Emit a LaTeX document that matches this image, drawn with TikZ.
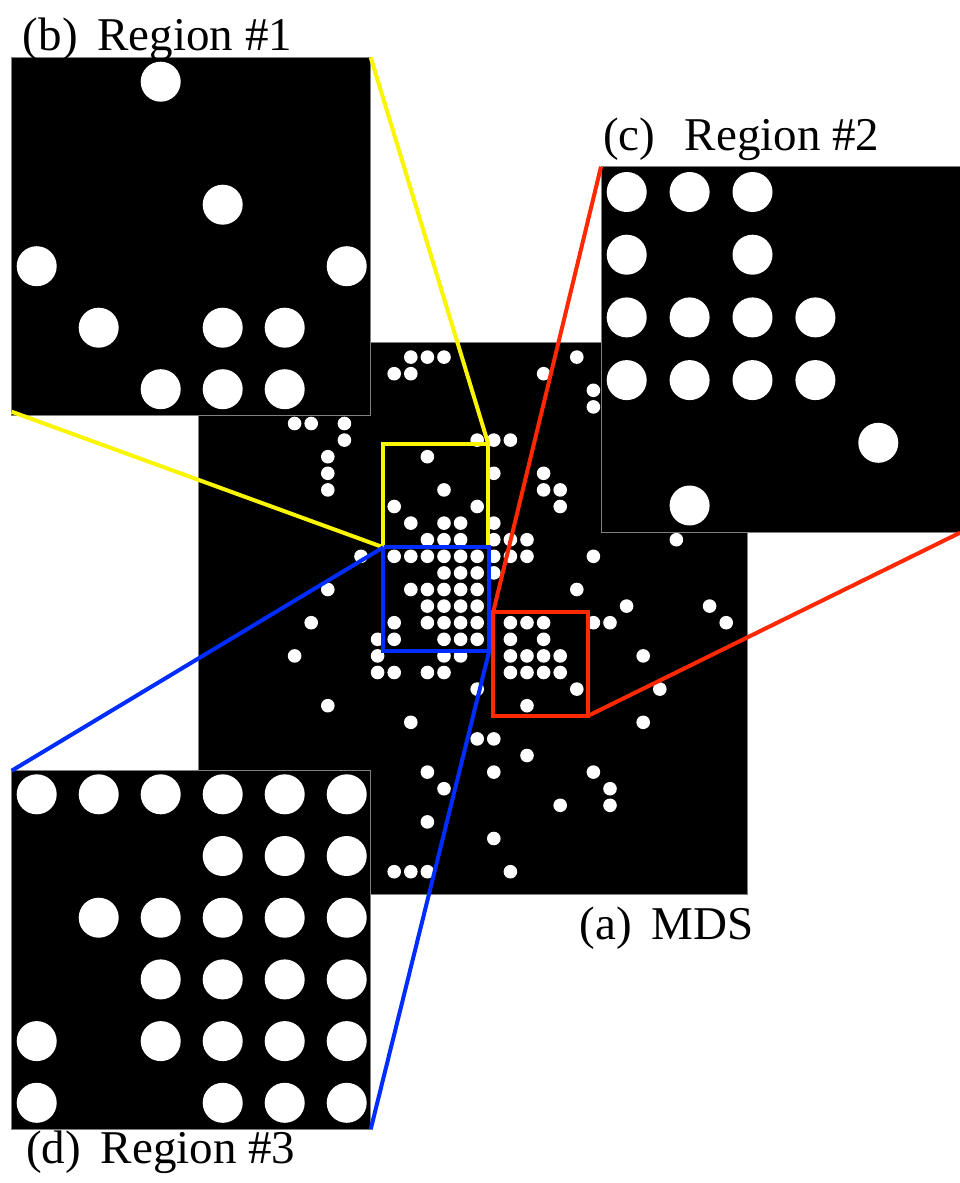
\documentclass[tikz,border=0pt]{standalone}
\usepackage{fontspec}
\setmainfont{Liberation Serif}
\definecolor{yel}{RGB}{250,245,0}
\definecolor{redc}{RGB}{255,40,0}
\definecolor{bluc}{RGB}{0,45,255}
\begin{document}
\begin{tikzpicture}[x=1pt,y=-1pt,
  panel/.style={rectangle,draw=gray,line width=0.8pt,fill=black,inner sep=0pt,outer sep=0pt},
  zbox/.style={rectangle,line width=4pt,inner sep=0pt,outer sep=0pt,fill=none},
  link/.style={line width=4pt},
  lbl/.style={inner sep=0pt,outer sep=0pt,anchor=base west,font=\fontsize{47}{56}\selectfont},
  dotm/.style={fill=white}]
\useasboundingbox (0,0) rectangle (960,1183);
\fill[white] (0,0) rectangle (960,1183);

% main MDS panel
\node[panel, minimum width=549pt, minimum height=552pt] (mds) at (472.5,618) {};
\foreach \r/\cs in {
  1/{13,14,15,23}, 2/{12,13,21}, 3/{24}, 4/{24}, 5/{6,7,9}, 6/{9,17,18,19},
  7/{8,14}, 8/{8,18,21}, 9/{8,15,21,22}, 10/{12,17,22}, 11/{13,15,16,18},
  12/{14,15,16,18,19,20,29}, 13/{10,12,13,14,15,16,17,18,19,20,24},
  14/{15,16,17,18}, 15/{8,13,14,15,16,17,23}, 16/{14,15,16,17,26,31},
  17/{7,12,14,15,16,17,19,20,21,24,25,32}, 18/{11,12,15,16,17,19,21},
  19/{6,11,15,16,19,20,21,22,27}, 20/{11,12,14,15,19,20,21,22},
  21/{17,23,28}, 22/{8,20}, 23/{13,27}, 24/{17,18}, 25/{20}, 26/{14,18,24},
  27/{15,25}, 28/{22,25}, 29/{14}, 30/{18}, 32/{12,13,14,19}}
{ \foreach \c in \cs { \fill[dotm] ({195+16.6*\c},{340.5+16.6*\r}) circle (6.8); } }

% inset (b)
\node[panel, minimum width=359pt, minimum height=358.4pt] (insb) at (191.2,236.5) {};
\foreach \k/\j in {2/0,3/2,0/3,5/3,1/4,3/4,4/4,2/5,3/5,4/5}
  { \fill[dotm] ({36.7+62*\k},{81.7+61.5*\j}) circle (20); }

% inset (c)
\node[panel, minimum width=359pt, minimum height=366pt] (insc) at (780.5,349.7) {};
\foreach \k/\j in {0/0,1/0,2/0,0/1,2/1,0/2,1/2,2/2,3/2,0/3,1/3,2/3,3/3,4/4,1/5}
  { \fill[dotm] ({626.7+62.9*\k},{192+62.7*\j}) circle (20); }

% inset (d)
\node[panel, minimum width=359pt, minimum height=358.6pt] (insd) at (191.2,950) {};
\foreach \j/\ks in {0/{0,1,2,3,4,5}, 1/{3,4,5}, 2/{1,2,3,4,5}, 3/{2,3,4,5}, 4/{0,2,3,4,5}, 5/{0,3,4,5}}
  { \foreach \k in \ks { \fill[dotm] ({36.7+62*\k},{794.3+61.7*\j}) circle (20); } }

% zoom boxes
\node[zbox, draw=yel, minimum width=105pt, minimum height=103.3pt] (boxy) at (435.8,495.65) {};
\node[zbox, draw=redc, minimum width=94.4pt, minimum height=104.3pt] (boxr) at (540.5,663.85) {};
\node[zbox, draw=bluc, minimum width=106pt, minimum height=103.4pt] (boxb) at (436.3,599) {};

% connectors
\draw[link, yel] (insb.north east) -- (boxy.north east);
\draw[link, yel] ([yshift=4pt]insb.south west) -- (boxy.south west);
\draw[link, redc] (insc.north west) -- (boxr.north west);
\draw[link, redc] (insc.south east) -- (boxr.south east);
\draw[link, bluc] (insd.north west) -- (boxb.north west);
\draw[link, bluc] (insd.south east) -- (boxb.south east);

% labels
\node[lbl] (lb) at (23,50) {(b)\hspace{0.42em}Region \#1};
\node[lbl] (lc) at (603,150) {(c)\hspace{0.63em}Region \#2};
\node[lbl] (la) at (579.7,939.3) {(a)\hspace{0.42em}MDS};
\node[lbl] (ld) at (26.3,1163.3) {(d)\hspace{0.42em}Region \#3};
\end{tikzpicture}
\end{document}
